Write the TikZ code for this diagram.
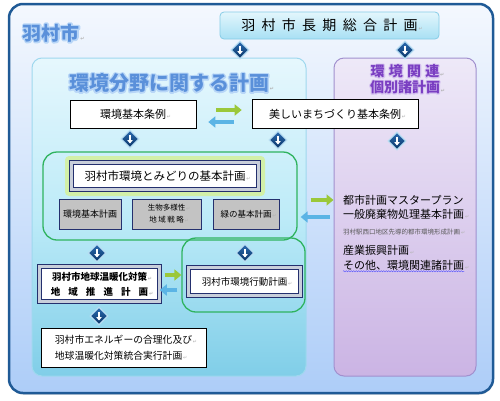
\documentclass[tikz,border=0pt]{standalone}
\usepackage{fontspec}
\setmainfont{Noto Sans CJK JP}
\newfontfamily\symfont{DejaVu Sans}
\usepackage{xcolor}
\usetikzlibrary{arrows.meta, shapes.geometric, shadows, decorations.pathmorphing}

\definecolor{frameblue}{HTML}{1F5A96}
\definecolor{frametop}{HTML}{F4F8FE}
\definecolor{framebot}{HTML}{ADCDF8}
\definecolor{cyantop}{HTML}{E6F7FD}
\definecolor{cyanmid}{HTML}{BDEBF8}
\definecolor{cyanbot}{HTML}{80CEE8}
\definecolor{cyanedge}{HTML}{9FD8EE}
\definecolor{lavtop}{HTML}{EEE9F8}
\definecolor{lavbot}{HTML}{CBB4E4}
\definecolor{lavedge}{HTML}{A190CE}
\definecolor{sogotop}{HTML}{E3F6FC}
\definecolor{sogobot}{HTML}{A8E0F4}
\definecolor{sogoedge}{HTML}{86CCE6}
\definecolor{titleblue}{HTML}{5A90DA}
\definecolor{titlepurple}{HTML}{7A3EC2}
\definecolor{arrgreen}{HTML}{9BC83A}
\definecolor{arrblue}{HTML}{5BB4E5}
\definecolor{groupgreen}{HTML}{2FB35F}
\definecolor{glowgreen}{HTML}{D2F0A8}
\definecolor{navyline}{HTML}{24306E}
\definecolor{bevelgray}{HTML}{C9CFDA}
\definecolor{boxgray}{HTML}{C3C3C3}
\definecolor{diatop}{HTML}{2A6AB0}
\definecolor{diabot}{HTML}{0A3566}
\definecolor{diaedge}{HTML}{B8DDF2}

\newcommand{\retmark}{\rlap{\symfont\fontsize{5}{5}\selectfont\color{gray!60}\,↵}}
\newcommand{\gap}[1][0.45em]{\hspace{#1}}
\newcommand{\fsz}[2]{\fontsize{#1}{#2}\selectfont}
% glow: a light outline under the glyphs (rgb, width, text)
\newcommand{\glowtext}[3]{\rlap{\special{pdf:literal direct 1 Tr #2 w 1 j #1 RG}#3\special{pdf:literal direct 0 Tr}}#3}

\tikzset{
  pics/diamark/.style={code={
    \node[diamond, minimum width=18pt, minimum height=18pt, draw=diaedge, line width=1.2pt, top color=diatop, bottom color=diabot] {};
    \draw[white, line width=1.5pt, -{Triangle[length=3.5pt, width=5.5pt]}] (0,-4.5) -- (0,4.5);
  }}
}

\begin{document}
\begin{tikzpicture}[x=1pt, y=-1pt,
    every node/.style={inner sep=0pt},
    plainbox/.style={draw=black, line width=0.6pt, fill=white},
    bevel/.style={draw=navyline, line width=0.5pt, double=bevelgray, double distance=3.5pt, fill=white},
    greybox/.style={draw=navyline, line width=0.8pt, fill=boxgray, align=center},
    group/.style={draw=groupgreen, line width=1.3pt, rounded corners=14pt},
    greenarr/.style={draw=arrgreen, line width=4.5pt, -{Triangle[length=7pt, width=11pt]}},
    bluearr/.style={draw=arrblue, line width=4.5pt, -{Triangle[length=7pt, width=11pt]}},
    listtext/.style={anchor=west, font=\fsz{11}{13}},
    wavy/.style={draw=blue!70, line width=0.4pt, decorate, decoration={snake, amplitude=0.6pt, segment length=2.5pt}}]
  \useasboundingbox (0,0) rectangle (500,400);

  % Frame
  \draw[draw=frameblue, line width=2.5pt, rounded corners=14pt, top color=frametop, bottom color=framebot,
        drop shadow={shadow xshift=0.5pt, shadow yshift=-1.5pt, opacity=0.35}] (9,4) rectangle (493,393);

  % City name
  \node[text=titleblue, font=\bfseries\fsz{19}{22}] (hamura) at (51,33) {\glowtext{0.72 0.84 0.97}{3}{羽村市}\retmark};

  % Long-term plan
  \node[draw=sogoedge, line width=0.8pt, rounded corners=4pt, top color=sogotop, bottom color=sogobot,
        minimum width=219pt, minimum height=27pt, font=\fsz{14}{16}] (sogo) at (329.5,25.5)
        {羽\gap 村\gap 市\gap 長\gap 期\gap 総\gap 合\gap 計\gap 画\retmark};

  % Panels
  \node[draw=cyanedge, line width=1pt, rounded corners=10pt, top color=cyantop, bottom color=cyanbot, middle color=cyanmid,
        minimum width=274pt, minimum height=318pt] (kankyo) at (169,217) {};
  \node[draw=lavedge, line width=1pt, rounded corners=10pt, top color=lavtop, bottom color=lavbot,
        minimum width=142pt, minimum height=318pt] (kanren) at (405,217) {};

  \node[text=titleblue, font=\bfseries\fsz{20}{22}] (kankyotitle) at (169,83)
        {\glowtext{0.72 0.84 0.97}{3}{環境分野に関する計画}\retmark};
  \node[text=titlepurple, font=\bfseries\fsz{14}{16}] (kanrentitle) at (405,71)
        {\glowtext{0.84 0.77 0.94}{2.2}{環\gap[0.3em]境\gap[0.3em]関\gap[0.3em]連}\retmark};
  \node[text=titlepurple, font=\bfseries\fsz{14}{16}] (kobetsutitle) at (405,87)
        {\glowtext{0.84 0.77 0.94}{2.2}{個別諸計画}\retmark};

  % Ordinances
  \node[plainbox, minimum width=126pt, minimum height=28pt, font=\fsz{11}{13}] (jorei) at (133,114) {環境基本条例\retmark};
  \node[plainbox, minimum width=166pt, minimum height=29pt, font=\fsz{11}{13}] (utsukushi) at (335,114) {美しいまちづくり基本条例\retmark};
  \draw[greenarr, shorten <=20pt, shorten >=10pt] ([yshift=4pt]jorei.east) -- ([yshift=4pt]utsukushi.west);
  \draw[bluearr, shorten <=18pt, shorten >=12pt] ([yshift=-8pt]utsukushi.west) -- ([yshift=-8pt]jorei.east);

  % Basic plan group
  \node[group, minimum width=254pt, minimum height=88pt] (grpA) at (170,196) {};
  \fill[glowgreen, rounded corners=4pt] (65,156) rectangle (265,196);
  \node[bevel, minimum width=187pt, minimum height=27pt, font=\fsz{11.5}{14}] (midori) at (165,176) {羽村市環境とみどりの基本計画\retmark};
  \node[greybox, minimum width=62pt, minimum height=30pt, font=\fsz{9}{11}] (kihon) at (90,214) {環境基本計画};
  \node[greybox, minimum width=69pt, minimum height=30pt, font=\fsz{7.5}{12}] (seibutsu) at (166.5,214)
        {生物多様性\retmark\\地\gap[0.2em]域\gap[0.2em]戦\gap[0.2em]略\retmark};
  \node[greybox, minimum width=66pt, minimum height=30pt, font=\fsz{8.5}{11}] (midorikihon) at (246,214) {緑の基本計画\retmark};

  % Related plans
  \node[listtext] (toshi) at (343,200) {都市計画マスタープラン};
  \node[listtext] (ippan) at (343,214) {一般廃棄物処理基本計画\retmark};
  \node[anchor=west, text=black!65, font=\fsz{6.5}{8}] (hamueki) at (343,232) {羽村駅西口地区先導的都市環境形成計画\retmark};
  \node[listtext] (sangyo) at (343,250) {産業振興計画\retmark};
  \node[listtext] (sonota) at (343,265) {その他、環境関連諸計画\retmark};
  \draw[wavy] ([yshift=-1pt]sonota.south west) -- ([yshift=-1pt]sonota.south east);

  \draw[greenarr, shorten <=13pt] (grpA.east |- toshi.west) -- (kanren.west |- toshi.west);
  \draw[bluearr, shorten <=4pt, shorten >=3pt] (kanren.west) -- (grpA.east |- kanren.west);

  % Action plans
  \node[group, minimum width=123pt, minimum height=74pt] (grpB) at (243.5,275) {};
  \node[bevel, minimum width=120pt, minimum height=35pt, align=center, font=\bfseries\fsz{9.5}{15}] (ondanka) at (99.5,284)
        {羽村市地球温暖化対策\retmark\\地\gap[0.85em]域\gap[0.85em]推\gap[0.85em]進\gap[0.85em]計\gap[0.85em]画\retmark};
  \node[bevel, minimum width=112pt, minimum height=28pt, font=\fsz{9.5}{12}] (kodo) at (244.5,281.5) {羽村市環境行動計画\retmark};
  \draw[greenarr, shorten <=5pt] ([yshift=9pt]ondanka.east) -- (grpB.west);
  \draw[bluearr, shorten <=4pt] ([yshift=-15pt]grpB.west) -- ([yshift=-6pt]ondanka.east);

  \node[plainbox, minimum width=165pt, minimum height=39pt, align=left, font=\fsz{9.8}{16}] (energy) at (123.5,347.5)
        {羽村市エネルギーの合理化及び\retmark\\地球温暖化対策統合実行計画\retmark};

  % Down marks
  \pic at (240,50) {diamark};
  \pic at (405,50) {diamark};
  \pic at (130,139) {diamark};
  \pic at (278,140) {diamark};
  \pic at (397,141) {diamark};
  \pic at (97,253) {diamark};
  \pic at (245,253) {diamark};
  \pic at (99,316) {diamark};
\end{tikzpicture}
\end{document}
